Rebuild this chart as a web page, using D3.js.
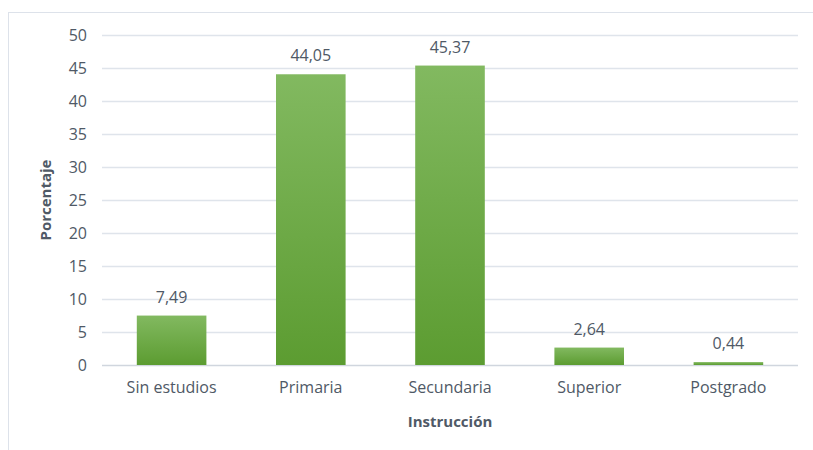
<!DOCTYPE html>
<html><head><meta charset="utf-8">
<script src="https://cdn.jsdelivr.net/npm/d3@7"></script>
<style>body{margin:0;background:#fff;} svg{display:block;font-family:"Open Sans",sans-serif;}</style>
</head><body><svg id="c" width="813" height="450"></svg>
<script>
const categories = ["Sin estudios","Primaria","Secundaria","Superior","Postgrado"];
const values = [7.49,44.05,45.37,2.64,0.44];
const valueLabels = ["7,49","44,05","45,37","2,64","0,44"];
const yTicks = [0,5,10,15,20,25,30,35,40,45,50];

const svg = d3.select("#c");
const txt = "#4f5966";
svg.append("rect").attr("x",8.5).attr("y",12.5).attr("width",820).attr("height",450)
  .attr("fill","#fff").attr("stroke","#dde2ea");
const defs = svg.append("defs");
const g = defs.append("linearGradient").attr("id","bg").attr("x1",0).attr("y1",0).attr("x2",0).attr("y2",1);
g.append("stop").attr("offset","0%").attr("stop-color","#82b960");
g.append("stop").attr("offset","100%").attr("stop-color","#5c9c31");

const x = d3.scaleBand().domain(categories).range([102,798]).paddingInner(0.5).paddingOuter(0.25);
const y = d3.scaleLinear().domain([0,50]).range([365,35]);

const grid = svg.append("g");
grid.selectAll("line").data(yTicks).join("line")
  .attr("x1",102).attr("x2",798).attr("y1",d=>y(d)+0.5).attr("y2",d=>y(d)+0.5)
  .attr("stroke",d=>d===0?"#d0d6de":"#dfe4eb").attr("stroke-width",1.3);

const yAxis = svg.append("g").attr("transform","translate(102,0)")
  .call(d3.axisLeft(y).tickValues(yTicks).tickSize(0).tickPadding(15));
yAxis.select(".domain").remove();
yAxis.selectAll("text").attr("fill",txt).attr("font-size",16).attr("font-family","Open Sans");

const xAxis = svg.append("g").attr("transform","translate(0,365)")
  .call(d3.axisBottom(x).tickSize(0).tickPadding(17));
xAxis.select(".domain").remove();
xAxis.selectAll("text").attr("fill",txt).attr("font-size",16).attr("font-family","Open Sans");

svg.append("g").selectAll("rect").data(values).join("rect")
  .attr("x",(d,i)=>x(categories[i])).attr("width",x.bandwidth())
  .attr("y",d=>y(d)).attr("height",d=>y(0)-y(d)).attr("fill","url(#bg)");

svg.append("g").selectAll("text").data(values).join("text")
  .attr("x",(d,i)=>x(categories[i])+x.bandwidth()/2).attr("y",d=>y(d)-13)
  .attr("text-anchor","middle").attr("fill",txt).attr("font-size",16)
  .text((d,i)=>valueLabels[i]);

svg.append("text").attr("x",450).attr("y",427).attr("text-anchor","middle")
  .attr("fill",txt).attr("font-size",15).attr("font-weight","bold").text("Instrucción");
svg.append("text").attr("transform","translate(51,200) rotate(-90)").attr("text-anchor","middle")
  .attr("fill",txt).attr("font-size",15).attr("font-weight","bold").text("Porcentaje");
</script></body></html>
